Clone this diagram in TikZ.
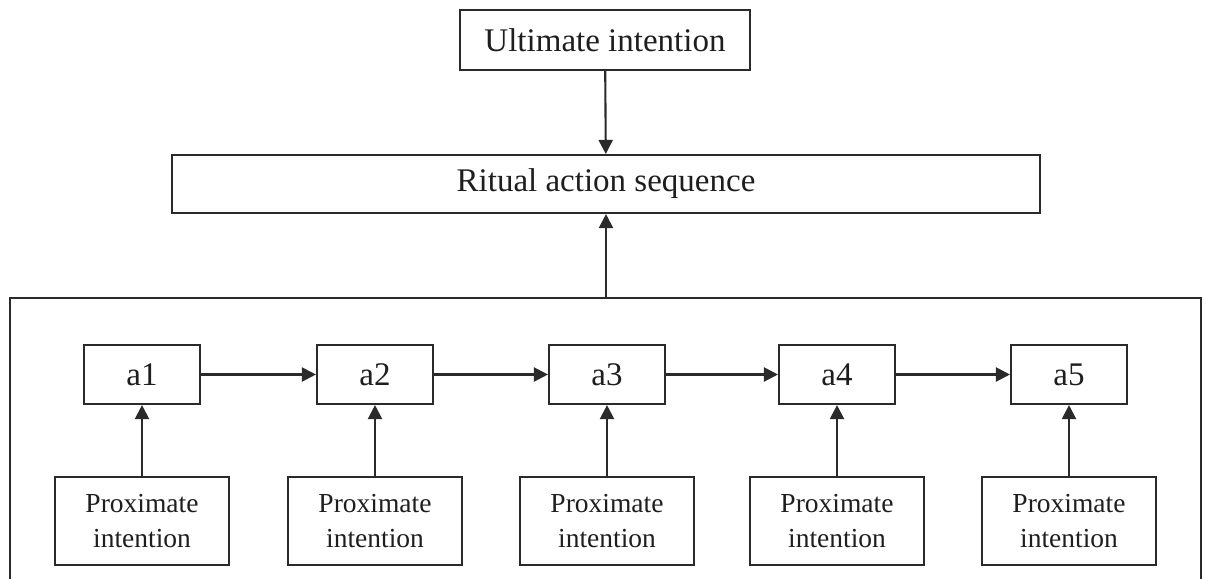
\documentclass[tikz,border=0pt]{standalone}
\usepackage{fontspec}
\setmainfont{Liberation Serif}
\usetikzlibrary{arrows.meta}
\definecolor{linec}{HTML}{2A2A2A}
\definecolor{textc}{HTML}{1E1E1E}
\begin{document}
\begin{tikzpicture}[x=1pt,y=-1pt,
  box/.style={draw=linec,line width=2.1pt,inner sep=0pt,text=textc},
  bigtxt/.style={font=\fontsize{33}{38}\selectfont},
  smalltxt/.style={font=\fontsize{27.5}{35}\selectfont,align=center},
  arr/.style={draw=linec,line width=2.1pt,-{Triangle[length=14pt,width=14pt]}}]
\useasboundingbox (0,0) rectangle (1206,578);
\node[box,bigtxt,minimum width=290pt,minimum height=60pt] (ult) at (605,40) {Ultimate intention};
\node[box,bigtxt,minimum width=868pt,minimum height=58pt] (rit) at (606,184) {Ritual action sequence};
\coordinate (cbl) at (10,580);
\coordinate (ctl) at (10,298);
\coordinate (ctop) at (606,298);
\coordinate (ctr) at (1201,298);
\coordinate (cbr) at (1201,580);
\draw[draw=linec,line width=2.1pt] (cbl) -- (ctl) -- (ctr) -- (cbr);
\draw[arr] (ult) -- (rit);
\draw[arr] (ctop) -- (rit);
\foreach \i/\x in {1/142,2/375,3/607,4/837,5/1069}{
  \node[box,bigtxt,minimum width=116pt,minimum height=59pt] (a\i) at (\x,374.5) {a\i};
  \node[box,smalltxt,minimum width=174pt,minimum height=88pt] (p\i) at (\x,521) {Proximate\\intention};
  \draw[arr] (p\i) -- (a\i);
}
\foreach \i/\j in {1/2,2/3,3/4,4/5}{
  \draw[arr] (a\i) -- (a\j);
}
\end{tikzpicture}
\end{document}
